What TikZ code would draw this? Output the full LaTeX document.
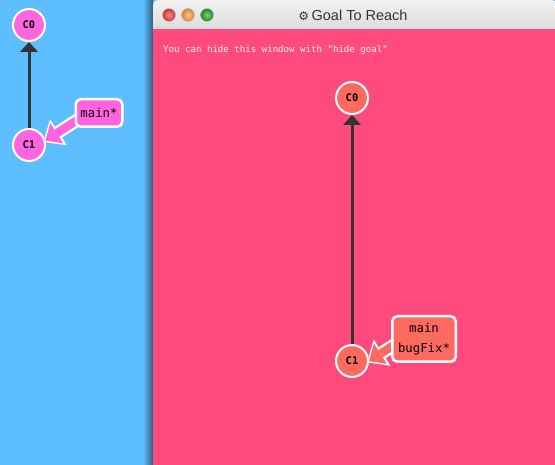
\documentclass[tikz,border=0pt]{standalone}
\usepackage{fontspec}
\setmainfont{Liberation Sans}
\setmonofont{DejaVu Sans Mono}
\newfontfamily\symfont{DejaVu Sans}
\usetikzlibrary{arrows.meta}
\definecolor{leftbg}{RGB}{92,189,255}
\definecolor{goalbg}{RGB}{255,74,125}
\definecolor{leftnode}{RGB}{255,100,225}
\definecolor{goalnode}{RGB}{255,106,96}
\definecolor{linegray}{RGB}{51,51,51}
\pgfdeclarelayer{bg}
\pgfdeclarelayer{edges}
\pgfsetlayers{bg,edges,main}

\begin{document}
\begin{tikzpicture}[x=1pt,y=-1pt,
		commit/.style={circle,draw=white,line width=2pt,minimum size=32pt,inner sep=0pt,
			font=\ttfamily\bfseries\fontsize{10.5}{12}\selectfont},
		branch/.style={draw=white,line width=2.5pt,rounded corners=5pt,inner sep=2pt,align=center,
			font=\ttfamily\fontsize{12.3}{20}\selectfont},
		parent/.style={draw=linegray,line width=3pt,-{Triangle[length=10pt,width=18pt,line width=0pt]}},
		pointer/.style={line width=13pt,white,-{Triangle[length=18pt,width=31pt,line width=0pt]},shorten >=-2.5pt},
		pointer fill/.style={line width=8.5pt,-{Triangle[length=13.5pt,width=24pt,line width=0pt]},shorten >=0pt}]
	\useasboundingbox (0,0) rectangle (555,465);
	\begin{pgfonlayer}{bg}
		\fill[leftbg] (0,0) rectangle (555,465);
		\shade[left color=leftbg,right color=leftbg!50!black] (143,0) rectangle (153,465);
		\shade[top color=gray!10,bottom color=gray!32,rounded corners=5pt] (153,0) rectangle (557,36);
		\fill[goalbg] (153,29) rectangle (555,465);
		\shade[inner color=red!45!white,outer color=red!75!black!80,draw=gray!50] (169,15) circle (6.5pt);
		\shade[inner color=orange!45!white,outer color=orange!80!black!80,draw=gray!50] (188,15) circle (6.5pt);
		\shade[inner color=green!50!black!45,outer color=green!50!black!90,draw=gray!50] (207,15) circle (6.5pt);
	\end{pgfonlayer}
	\node[text=black!80,font=\fontsize{14.5}{16}\selectfont] (title) at (353,15) {{\symfont\fontsize{12}{14}\selectfont ⚙}\,Goal To Reach};
	\node[anchor=base west,inner sep=0pt,text=white!90!pink,font=\ttfamily\fontsize{9.1}{11}\selectfont] (hint) at (163,53) {You can hide this window with "hide goal"};
	% left tree
	\node[commit,fill=leftnode] (c0L) at (29,25) {C0};
	\node[commit,fill=leftnode] (c1L) at (29,145) {C1};
	\node[branch,fill=leftnode,minimum width=46.5pt,minimum height=27.5pt] (mainL) at (99,113) {main*};
	\coordinate (tailL) at (99,106);
	% goal tree
	\node[commit,fill=goalnode] (c0R) at (352,98) {C0};
	\node[commit,fill=goalnode] (c1R) at (352,361) {C1};
	\node[branch,fill=goalnode,minimum width=63.5pt,minimum height=45.5pt] (mainR) at (424,339) {main\\bugFix*};
	\coordinate (tailR) at (424,326);
	\draw[parent] (c1L) -- (c0L);
	\draw[parent] (c1R) -- (c0R);
	\begin{pgfonlayer}{edges}
		\draw[pointer] (tailL) -- (c1L.15);
		\draw[pointer fill,leftnode] (tailL) -- (c1L.15);
		\draw[pointer] (tailR) -- (c1R.0);
		\draw[pointer fill,goalnode] (tailR) -- (c1R.0);
	\end{pgfonlayer}
\end{tikzpicture}
\end{document}
